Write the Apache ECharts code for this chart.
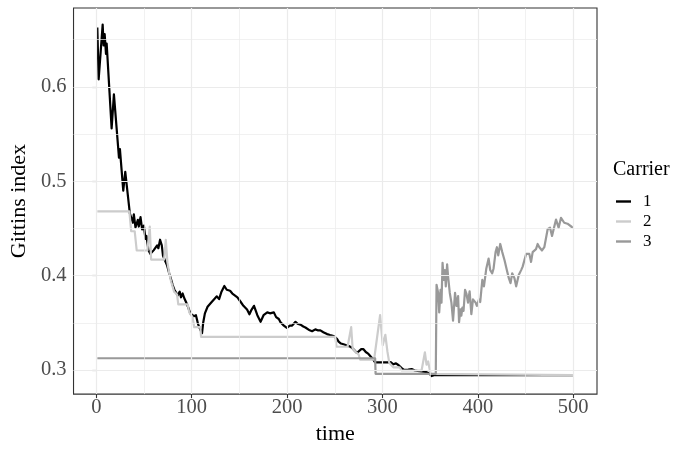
<!DOCTYPE html>
<html>
<head>
<meta charset="utf-8">
<script src="https://cdn.jsdelivr.net/npm/echarts@6/dist/echarts.min.js"></script>
<style>
  html, body { margin: 0; padding: 0; background: #ffffff; }
  #chart { width: 676px; height: 450px; }
</style>
</head>
<body>
<div id="chart"></div>
<script>
// Gittins index of each carrier over time: [time, index]
const carrier1 = [
  [1, 0.663], [2.4, 0.608], [6.6, 0.666], [7.6, 0.644], [8.7, 0.656], [10.1, 0.635],
  [10.8, 0.646], [16, 0.556], [18.4, 0.592], [23.7, 0.525], [24.7, 0.534], [28.2, 0.490],
  [30.3, 0.510], [35.1, 0.466], [38.3, 0.456], [39.3, 0.465], [41, 0.451], [43.5, 0.459],
  [44.5, 0.452], [46.3, 0.462], [48, 0.449], [49.8, 0.453], [51.5, 0.439], [52.5, 0.442],
  [54.6, 0.427], [56.7, 0.423], [58.1, 0.424], [60.2, 0.427], [61.6, 0.425], [63.7, 0.432],
  [65, 0.429], [66.8, 0.438], [68.6, 0.432], [69.9, 0.421], [72, 0.416], [74.1, 0.411],
  [76.5, 0.402], [78.3, 0.396], [80, 0.390], [81.8, 0.385], [83.5, 0.383], [85.3, 0.379],
  [87.4, 0.383], [88.7, 0.377], [90.5, 0.381], [92.2, 0.376], [94, 0.372], [96.4, 0.366],
  [98.5, 0.360], [102.2, 0.357], [104.4, 0.358], [106.8, 0.348], [109.3, 0.342], [110.8, 0.339],
  [112, 0.350], [113.8, 0.360], [116.6, 0.367], [120, 0.371], [123.5, 0.375], [126.3, 0.378],
  [128.7, 0.375], [131.2, 0.383], [134.2, 0.389], [136.7, 0.385], [140.2, 0.384], [142.6, 0.381],
  [144.4, 0.379], [147.9, 0.377], [151.4, 0.372], [154.2, 0.368], [158, 0.364], [160.5, 0.359],
  [162.8, 0.364], [165.3, 0.368], [168.8, 0.358], [172.2, 0.351], [175.3, 0.358], [179.2, 0.361],
  [182, 0.360], [186.1, 0.361], [188.5, 0.356], [191.3, 0.354], [193.1, 0.3505], [196.6, 0.347],
  [199.8, 0.3445], [202.8, 0.347], [205.3, 0.347], [208.8, 0.351], [211, 0.349], [214, 0.348],
  [217, 0.346], [219.2, 0.345], [223.7, 0.342], [226.2, 0.341], [229.6, 0.343], [232, 0.342],
  [234.9, 0.342], [238, 0.340], [241.9, 0.338], [245, 0.337], [248.8, 0.336], [252.3, 0.333],
  [254, 0.330], [256.5, 0.328], [260, 0.327], [262.7, 0.326], [265.5, 0.325], [268, 0.3235],
  [270.4, 0.321], [273.2, 0.318], [275.2, 0.318], [277.7, 0.322], [280.1, 0.322], [282.5, 0.319],
  [285.3, 0.317], [288.8, 0.313], [290.5, 0.312], [292.3, 0.308], [306.2, 0.308], [308.6, 0.3083],
  [311.4, 0.306], [314.2, 0.307], [317, 0.305], [320.1, 0.302], [322.5, 0.300], [327, 0.3004],
  [330.6, 0.301], [334, 0.2994], [338.6, 0.2986], [345, 0.298], [349, 0.2965], [351.5, 0.2935],
  [354, 0.2945], [500, 0.2945]
];

const carrier2 = [
  [1, 0.468], [34.6, 0.468], [36.5, 0.447], [40.2, 0.447], [42.3, 0.4266], [53.5, 0.4266],
  [56, 0.452], [57.4, 0.417], [71, 0.417], [72.8, 0.438], [74.5, 0.414], [76.5, 0.402],
  [78.3, 0.394], [81.5, 0.383], [84.6, 0.380], [85.9, 0.3695], [95.7, 0.3695], [97.4, 0.361],
  [100.9, 0.3557], [102.6, 0.3453], [109, 0.3453], [109.8, 0.335], [250.5, 0.335], [251.8, 0.3246],
  [263.4, 0.3246], [267.2, 0.3453], [268.7, 0.3228], [272, 0.319], [274.9, 0.3166], [276.6, 0.3108],
  [291.2, 0.3108], [297.5, 0.3581], [300.3, 0.3263], [303, 0.3373], [305.2, 0.3194], [307.2, 0.3073],
  [311.4, 0.3028], [318, 0.3028], [320.1, 0.2994], [341, 0.2994], [344.5, 0.3187], [346.2, 0.3056],
  [347.9, 0.309], [350.4, 0.2959], [352, 0.2945], [500, 0.2945]
];

const carrier3 = [
  [1, 0.3124], [292.3, 0.3124], [292.8, 0.2959], [355.9, 0.2959], [356.7, 0.3903], [358.4, 0.3816],
  [359.5, 0.3609], [360.9, 0.385], [361.9, 0.3713], [363, 0.4135], [364.3, 0.3954], [365.4, 0.4058],
  [366.4, 0.3886], [367.8, 0.412], [368.8, 0.399], [370.6, 0.3816], [372.3, 0.3713], [374, 0.3523],
  [376.1, 0.3816], [377.6, 0.3678], [379.3, 0.3782], [380.3, 0.3505], [381.7, 0.3643], [382.7, 0.3575],
  [383.8, 0.366], [385, 0.3625], [386.6, 0.385], [388, 0.381], [389.7, 0.3713], [391.4, 0.3834],
  [393.2, 0.3591], [394.9, 0.3747], [396.5, 0.3745], [397.7, 0.3713], [399, 0.3678], [401.2, 0.3747],
  [402.5, 0.372], [404.7, 0.3954], [406.4, 0.3886], [408.9, 0.4076], [411.3, 0.418], [413, 0.4058],
  [415.1, 0.4024], [416.5, 0.4076], [418.6, 0.4249], [420, 0.4301], [421.4, 0.4214], [423.5, 0.4335],
  [425.6, 0.4249], [428, 0.4162], [430.4, 0.4058], [432.5, 0.3972], [434.3, 0.392], [436, 0.4024],
  [438.4, 0.3972], [440.2, 0.3886], [442.9, 0.4006], [445.4, 0.4058], [447, 0.4095], [448.9, 0.4076],
  [450.7, 0.4231], [452.4, 0.4215], [454, 0.423], [455.8, 0.4145], [457.5, 0.4249], [459, 0.4266],
  [461, 0.428], [462.7, 0.4335], [464.5, 0.4301], [467.3, 0.4266], [469.7, 0.4301], [473.2, 0.4491],
  [475.7, 0.4508], [477.8, 0.4421], [480.3, 0.4525], [482, 0.4594], [484.7, 0.4508], [487.2, 0.4612],
  [489, 0.4595], [490.6, 0.456], [492.3, 0.4575], [494, 0.455], [495.5, 0.4545], [498.6, 0.4515],
  [500, 0.451]
];

const carrierNames = ['1', '2', '3'];
const carrierColors = ['#000000', '#cccccc', '#999999'];

// axis breaks
const xMajor = [0, 100, 200, 300, 400, 500];
const xMinor = [50, 150, 250, 350, 450];
const yMajor = [0.3, 0.4, 0.5, 0.6];
const yMinor = [0.35, 0.45, 0.55, 0.65];

// padded axis ranges (5% either side of the data)
const xRange = [-23.95, 524.95];
const yRange = [0.2744, 0.6836];

const serif = '"Liberation Serif", "DejaVu Serif", serif';

const gridLines = [].concat(
  xMinor.map(v => ({ xAxis: v, lineStyle: { width: 0.7, color: '#ebebeb' } })),
  yMinor.map(v => ({ yAxis: v, lineStyle: { width: 0.7, color: '#ebebeb' } })),
  xMajor.map(v => ({ xAxis: v, lineStyle: { width: 1.2, color: '#ebebeb' } })),
  yMajor.map(v => ({ yAxis: v, lineStyle: { width: 1.2, color: '#ebebeb' } }))
);

const chart = echarts.init(document.getElementById('chart'), null, { renderer: 'canvas' });

chart.setOption({
  animation: false,
  backgroundColor: '#ffffff',
  title: {
    text: 'Carrier',
    left: 613,
    top: 160,
    padding: 0,
    textStyle: { fontFamily: serif, fontSize: 20, fontWeight: 'normal', color: '#000000', lineHeight: 20 }
  },
  legend: {
    data: carrierNames,
    orient: 'vertical',
    left: 616,
    top: 193,
    padding: 0,
    itemGap: 3,
    itemWidth: 15,
    itemHeight: 2.4,
    icon: 'rect',
    selectedMode: false,
    textStyle: { fontFamily: serif, fontSize: 17, color: '#000000', lineHeight: 17, padding: [0, 0, 0, 7] }
  },
  grid: {
    left: 72,
    top: 8,
    width: 525,
    height: 394,
    show: true,
    backgroundColor: '#ffffff',
    borderColor: '#333333',
    borderWidth: 1.1,
    containLabel: false
  },
  xAxis: {
    type: 'value',
    min: xRange[0],
    max: xRange[1],
    name: 'time',
    nameLocation: 'middle',
    nameGap: 27,
    nameTextStyle: { fontFamily: serif, fontSize: 22, color: '#000000' },
    axisLine: { show: false },
    axisTick: { show: true, length: 4, customValues: xMajor, lineStyle: { color: '#333333', width: 1.1 } },
    axisLabel: { customValues: xMajor, margin: 3, fontFamily: serif, fontSize: 20.5, color: '#4d4d4d' },
    splitLine: { show: false },
    minorSplitLine: { show: false }
  },
  yAxis: {
    type: 'value',
    min: yRange[0],
    max: yRange[1],
    name: 'Gittins index',
    nameLocation: 'middle',
    nameRotate: 90,
    nameGap: 41,
    nameTextStyle: { fontFamily: serif, fontSize: 22, color: '#000000' },
    axisLine: { show: false },
    axisTick: { show: true, length: 4, customValues: yMajor, lineStyle: { color: '#333333', width: 1.1 } },
    axisLabel: {
      customValues: yMajor, margin: 7, fontFamily: serif, fontSize: 20.5, color: '#4d4d4d',
      formatter: v => v.toFixed(1)
    },
    splitLine: { show: false },
    minorSplitLine: { show: false }
  },
  series: [
    {
      name: 'panel-grid',
      type: 'line',
      data: [],
      silent: true,
      z: 1,
      markLine: {
        silent: true,
        symbol: ['none', 'none'],
        label: { show: false },
        emphasis: { disabled: true },
        lineStyle: { type: 'solid' },
        data: gridLines
      }
    },
    ...[carrier1, carrier2, carrier3].map((d, i) => ({
      name: carrierNames[i],
      type: 'line',
      data: d,
      z: 2,
      showSymbol: false,
      symbol: 'none',
      color: carrierColors[i],
      lineStyle: { color: carrierColors[i], width: 2.2, join: 'round' },
      emphasis: { disabled: true }
    }))
  ]
});
</script>
</body>
</html>
